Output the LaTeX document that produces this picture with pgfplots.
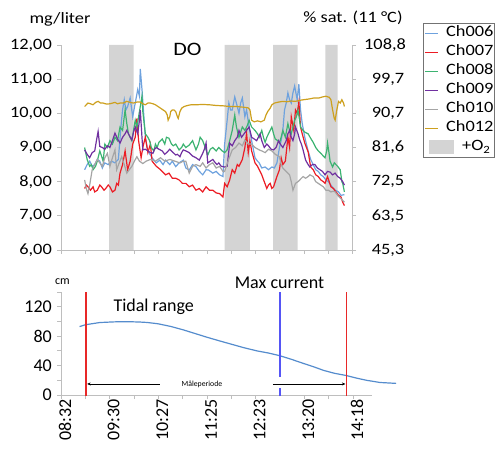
\documentclass[border=0pt]{standalone}
\usepackage{pgfplots}
\pgfplotsset{compat=1.18}
\usepackage{fontspec}
\setmainfont{Carlito}
\newfontfamily\topfam{Carlito}[FakeStretch=1.16]
\newcommand\tf{\topfam\fontsize{15.8bp}{18bp}\selectfont}
\newcommand\bfnt{\fontsize{18bp}{21bp}\selectfont}
\usetikzlibrary{arrows.meta}
\definecolor{c6}{RGB}{110,162,222}
\definecolor{c7}{RGB}{236,28,36}
\definecolor{c8}{RGB}{60,179,113}
\definecolor{c9}{RGB}{112,48,160}
\definecolor{c10}{RGB}{165,165,165}
\definecolor{c12}{RGB}{205,160,30}
\definecolor{bandgray}{RGB}{212,212,212}
\definecolor{axgray}{RGB}{190,190,190}
\definecolor{tide}{RGB}{85,140,205}
\definecolor{vred}{RGB}{232,40,40}
\definecolor{maxblue}{RGB}{85,85,245}
\pgfplotsset{
  linelg/.style={legend image code/.code={%
    \draw[##1, line width=1.4bp] (1bp,0bp) -- (14bp,0bp);
    \path[draw=none] (0bp,0bp) -- (22bp,0bp);}},
}
\begin{document}
\begin{tikzpicture}
\path[use as bounding box] (0,0) rectangle (498bp,449bp);
% ---------------- top axis (mg/liter) ----------------
\begin{axis}[
  at={(61bp,199bp)}, anchor=south west,
  scale only axis, width=291bp, height=205bp,
  xmin=512, xmax=857, ymin=6, ymax=12,
  axis x line=bottom, axis y line=left,
  axis line style={-, draw=axgray, line width=0.8bp},
  tick style={draw=axgray, line width=0.8bp},
  tick align=outside, major tick length=4bp,
  xtick={512,540.8,569.7,598.5,627.3,656.2,685,713.8,742.7,771.5,800.3,829.2,857},
  xticklabels={},
  ytick={6,7,8,9,10,11,12},
  yticklabels={{6,00},{7,00},{8,00},{9,00},{10,00},{11,00},{12,00}},
  yticklabel style={font=\tf, inner sep=0pt, xshift=-5bp},
  every axis plot/.append style={line width=1.2bp},
  legend cell align=left,
  legend style={at={(1.244,1.107)}, anchor=north west, draw=black!55,
    font=\tf, inner xsep=1bp, inner ysep=3bp, row sep=5bp,
    nodes={inner sep=0pt, text height=10.5bp, text depth=3.5bp}},
]
\addplot[fill=bandgray, draw=none, forget plot] coordinates {(569,6)(569,12)(598,12)(598,6)} \closedcycle;
\addplot[fill=bandgray, draw=none, forget plot] coordinates {(706,6)(706,12)(736,12)(736,6)} \closedcycle;
\addplot[fill=bandgray, draw=none, forget plot] coordinates {(763.5,6)(763.5,12)(792.5,12)(792.5,6)} \closedcycle;
\addplot[fill=bandgray, draw=none, forget plot] coordinates {(825.5,6)(825.5,12)(840,12)(840,6)} \closedcycle;
\addplot[c6, linelg] coordinates {(540,8.35)(543,8.5)(546,8.6)(549,8.45)(552,8.5)(555,8.65)(558,8.6)(561,8.4)(564,8.55)(568,8.5)(572,8.6)(576,8.55)(580,8.65)(583,9.6)(585,10.1)(587,10.4)(589,10.1)(591,10.2)(594,10.45)(597,9.9)(600,10.3)(603,10.7)(605,10.5)(606,11.3)(608,10.7)(610,10.0)(612,9.3)(615,8.9)(620,8.7)(625,8.55)(629,8.63)(633,8.5)(636,8.63)(641,8.5)(644,8.6)(648,8.44)(652,8.55)(657,8.63)(660,8.4)(664,8.34)(668,8.5)(672,8.44)(676,8.3)(680,8.2)(684,8.35)(687,8.34)(692,8.25)(696,8.3)(700,8.2)(704,8.15)(706,9.1)(709,9.8)(711,10.3)(713,10.1)(715,10.1)(718,10.48)(721,10.2)(723,10.0)(725,10.3)(727,10.45)(730,9.9)(732,10.1)(735,9.6)(738,9.2)(742,8.7)(745,8.6)(747,8.55)(750,8.4)(754,8.43)(758,8.35)(762,8.43)(765,8.4)(768,8.55)(771,9.0)(773,9.2)(775,9.5)(777,10.1)(779,10.3)(781,10.6)(783,10.4)(785,10.3)(787,10.6)(789,10.8)(792,10.4)(794,10.85)(796,10.1)(798,9.7)(801,9.3)(805,8.9)(808,8.65)(811,8.5)(814,8.35)(817,8.3)(820,8.2)(823,8.15)(826,8.05)(829,8.0)(832,7.9)(835,7.8)(837,7.75)(841,7.7)(844,7.6)(848,7.62)};
\addlegendentry{Ch006}
\addplot[c7, linelg] coordinates {(540,7.8)(542,7.9)(544,7.85)(547,7.75)(550,7.85)(552,7.7)(555,7.75)(558,7.9)(560,7.85)(563,7.75)(565,7.8)(568,7.9)(570,7.85)(573,7.7)(576,7.75)(578,7.95)(580,7.9)(582,8.25)(585,8.5)(588,8.9)(591,8.35)(594,8.6)(597,9.1)(600,9.3)(602,9.85)(604,9.2)(607,8.7)(609,9.0)(612,9.3)(615,8.85)(618,9.1)(620,8.6)(625,8.45)(630,8.35)(636,8.2)(640,8.25)(644,8.1)(648,8.1)(652,8.05)(656,7.95)(660,7.95)(664,7.85)(668,7.9)(672,7.75)(676,7.8)(680,7.7)(684,7.85)(688,7.75)(692,7.75)(696,7.67)(700,7.65)(704,7.55)(706,7.95)(709,7.85)(712,8.05)(715,8.35)(718,8.25)(721,8.5)(723,8.45)(727,8.65)(730,9.0)(732,9.42)(734,8.85)(736,9.2)(738,8.9)(742,8.55)(745,8.45)(747,8.35)(750,8.2)(753,8.0)(756,7.8)(758,7.9)(760,7.95)(762,7.8)(764,7.85)(766,8.0)(768,8.15)(771,8.35)(773,8.7)(775,8.5)(778,8.6)(781,9.3)(783,9.0)(785,9.9)(788,9.5)(790,10.1)(792,10.0)(794,10.34)(796,9.6)(798,9.4)(801,9.13)(805,8.87)(808,8.43)(811,8.35)(814,8.2)(817,8.15)(820,8.05)(823,8.0)(825,7.95)(828,8.15)(830,8.0)(832,7.85)(835,7.8)(838,7.7)(841,7.6)(844,7.55)(846,7.4)(848,7.3)};
\addlegendentry{Ch007}
\addplot[c8, linelg] coordinates {(540,9.0)(543,8.65)(546,8.45)(548,8.5)(550,8.35)(553,8.45)(555,8.6)(558,8.9)(560,8.75)(562,8.6)(564,9.1)(567,9.0)(570,9.2)(573,9.1)(576,9.3)(579,9.2)(582,9.6)(585,9.5)(588,10.1)(590,9.7)(592,9.4)(594,9.3)(596,9.2)(598,9.5)(600,9.8)(602,9.6)(604,9.9)(606,10.2)(608,10.5)(609,10.05)(612,9.4)(615,9.3)(617,9.2)(619,9.0)(622,8.9)(624,9.1)(626,9.0)(628,9.15)(632,9.25)(635,9.1)(637,9.3)(640,9.27)(643,9.1)(645,9.05)(648,9.1)(652,8.93)(655,9.0)(657,9.1)(660,9.0)(664,9.07)(668,9.2)(672,8.93)(675,9.1)(677,9.3)(680,9.2)(683,9.0)(686,8.78)(689,8.95)(692,9.0)(696,8.9)(699,9.0)(703,8.9)(706,8.85)(709,8.93)(712,9.2)(715,9.5)(718,9.95)(720,9.6)(723,9.3)(725,9.45)(727,9.6)(730,9.5)(733,9.65)(735,9.8)(738,9.6)(742,9.5)(745,9.4)(747,9.3)(750,9.5)(752,9.3)(754,9.15)(756,9.3)(758,9.4)(760,9.5)(762,9.6)(764,9.4)(766,9.25)(769,9.2)(771,9.13)(773,9.3)(775,9.5)(778,9.3)(781,9.7)(783,9.5)(785,9.4)(787,9.6)(789,9.8)(791,9.9)(793,10.1)(796,9.6)(799,9.5)(801,9.45)(805,9.4)(808,9.27)(811,9.15)(814,9.0)(817,8.9)(820,8.83)(823,8.75)(825,8.7)(827,8.9)(828,9.13)(830,8.8)(831,8.6)(834,8.43)(836,8.55)(838,8.5)(840,8.45)(843,8.35)(845,8.0)(846,7.95)(848,7.7)};
\addlegendentry{Ch008}
\addplot[c9, linelg] coordinates {(540,8.93)(543,8.8)(546,8.7)(549,8.85)(552,8.9)(554,9.2)(556,9.47)(558,9.03)(561,9.0)(564,8.95)(567,9.05)(570,9.0)(573,9.2)(576,9.42)(579,9.25)(582,9.13)(585,9.3)(588,9.4)(590,9.5)(593,9.35)(596,9.22)(598,9.45)(600,9.6)(603,9.4)(605,9.8)(606,10.1)(608,9.3)(609,8.93)(612,8.95)(615,8.9)(618,8.85)(621,8.83)(623,8.95)(625,9.0)(628,8.95)(632,8.9)(635,8.8)(638,8.87)(641,8.95)(645,8.85)(648,8.78)(650,8.8)(653,8.73)(655,8.85)(657,8.93)(660,8.9)(664,8.85)(668,8.75)(672,8.7)(676,8.63)(680,8.83)(682,8.95)(684,9.13)(686,8.55)(689,8.6)(692,8.65)(695,8.55)(697,8.5)(699,8.55)(702,8.45)(706,8.43)(709,8.45)(712,9.13)(715,9.05)(718,9.2)(721,9.3)(723,9.5)(726,9.3)(729,9.4)(732,9.5)(735,9.6)(738,9.3)(741,9.25)(744,9.2)(746,9.3)(748,9.4)(750,9.2)(753,9.0)(756,9.1)(758,9.05)(761,8.95)(764,8.93)(767,9.0)(770,9.2)(772,9.1)(775,9.0)(777,9.1)(779,9.2)(781,9.4)(783,9.5)(785,9.3)(787,9.2)(789,9.4)(790,9.6)(793,9.4)(795,9.22)(797,9.1)(799,8.93)(802,8.63)(805,8.5)(807,8.43)(810,8.5)(813,8.5)(816,8.4)(819,8.35)(822,8.3)(825,8.2)(828,8.3)(831,8.28)(834,8.2)(837,8.25)(840,8.15)(843,8.1)(846,8.0)(848,7.9)};
\addlegendentry{Ch009}
\addplot[c10, linelg] coordinates {(540,8.05)(542,7.8)(544,7.65)(546,7.9)(549,8.35)(552,8.5)(555,8.65)(558,8.55)(561,8.45)(564,8.7)(567,8.83)(570,8.45)(573,8.7)(576,8.93)(578,8.35)(581,8.55)(584,8.73)(587,8.5)(590,8.25)(593,8.35)(596,8.45)(599,8.6)(602,8.73)(605,8.6)(609,8.53)(613,8.6)(618,8.65)(624,8.6)(630,8.7)(635,8.6)(641,8.65)(647,8.6)(653,8.55)(657,8.6)(660,8.6)(664,8.25)(668,8.45)(672,8.5)(677,8.45)(680,8.55)(684,8.4)(688,8.5)(692,8.55)(696,8.4)(700,8.45)(704,8.3)(706,8.3)(710,8.6)(715,8.93)(719,9.0)(723,9.13)(727,9.05)(730,9.22)(734,9.1)(738,9.1)(742,9.0)(747,8.93)(750,8.9)(754,8.85)(758,8.95)(762,8.9)(766,8.8)(771,8.73)(773,8.5)(775,8.4)(777,8.35)(779,8.3)(781,8.25)(783,8.2)(785,8.0)(787,7.75)(790,7.95)(793,8.0)(795,8.05)(797,8.1)(799,8.15)(802,8.1)(805,8.15)(807,8.2)(811,8.15)(814,8.0)(817,7.95)(820,7.9)(823,7.85)(826,7.75)(829,7.75)(832,7.7)(835,7.72)(837,7.7)(840,7.6)(843,7.52)(846,7.45)(848,7.4)};
\addlegendentry{Ch010}
\addplot[c12, linelg] coordinates {(540,10.2)(542,10.25)(544,10.3)(547,10.28)(550,10.25)(553,10.32)(556,10.35)(559,10.3)(562,10.3)(566,10.27)(570,10.28)(573,10.3)(576,10.32)(579,10.28)(582,10.3)(586,10.3)(590,10.35)(594,10.32)(598,10.3)(602,10.33)(606,10.33)(609,10.28)(612,10.25)(615,10.3)(618,10.3)(621,10.28)(624,10.25)(627,10.2)(630,10.15)(633,10.1)(636,10.05)(638,9.95)(639,9.8)(641,9.9)(642,10.05)(644,10.1)(646,10.1)(648,10.05)(650,9.9)(651,9.85)(653,10.05)(655,10.15)(658,10.2)(662,10.23)(666,10.25)(672,10.25)(680,10.26)(688,10.25)(696,10.23)(704,10.22)(712,10.2)(720,10.2)(728,10.18)(734,10.16)(736,10.1)(738,9.8)(741,9.75)(745,9.78)(749,9.75)(753,9.8)(755,9.95)(757,10.05)(760,10.15)(762,10.25)(765,10.3)(770,10.33)(775,10.35)(780,10.34)(785,10.36)(790,10.35)(795,10.38)(800,10.4)(806,10.42)(812,10.45)(818,10.45)(822,10.48)(826,10.5)(830,10.47)(832,10.4)(834,10.1)(836,9.85)(837,9.8)(839,10.1)(841,10.35)(843,10.3)(845,10.4)(847,10.3)(848,10.2)};
\addlegendentry{Ch012}
\addlegendimage{legend image code/.code={\fill[bandgray, draw=none, overlay] (5bp,-6.5bp) rectangle (30bp,7bp); \path[draw=none] (0bp,0bp) -- (22bp,0bp);}}
\addlegendentry{\hspace{16bp}+O\textsubscript{2}}
\end{axis}
% right axis (% saturation)
\begin{axis}[
  at={(61bp,199bp)}, anchor=south west,
  scale only axis, width=291bp, height=205bp,
  xmin=512, xmax=857, ymin=6, ymax=12,
  axis x line=none, axis y line=right,
  axis line style={-, draw=axgray, line width=0.8bp},
  tick style={draw=axgray, line width=0.8bp},
  tick align=outside, major tick length=4bp,
  ytick={6,7,8,9,10,11,12},
  yticklabels={{45,3},{63,5},{72,5},{81,6},{90,7},{99,7},{108,8}},
  yticklabel style={font=\tf, inner sep=0pt, anchor=west, text width=40bp, align=right, xshift=8bp},
]
\addplot[draw=none] coordinates {(512,6)};
\end{axis}
\node[font=\tf, anchor=base] at (60bp,425.7bp) {mg/liter};
\node[font=\tf, anchor=base] at (353bp,426.3bp) {\% sat. (11 \textdegree C)};
\node[font=\topfam\fontsize{19bp}{22bp}\selectfont, anchor=base] at (187.5bp,393bp) {DO};
% ---------------- bottom axis (tide) ----------------
\begin{axis}[
  at={(61bp,54bp)}, anchor=south west,
  scale only axis, width=311bp, height=103bp,
  xmin=512, xmax=880.5, ymin=0, ymax=140,
  axis x line=bottom, axis y line=left,
  axis line style={-, draw=axgray, line width=0.8bp},
  tick style={draw=axgray, line width=0.8bp},
  tick align=outside, major tick length=4bp, minor tick length=4bp,
  xtick={512,569.67,627.33,685,742.67,800.33,858},
  xticklabels={08:32,09:30,10:27,11:25,12:23,13:20,14:18},
  minor xtick={540.8,598.5,656.2,713.8,829.2},
  xticklabel style={font=\bfnt, rotate=90, anchor=east, inner sep=0pt, yshift=-4bp},
  ytick={0,40,80,120},
  yticklabels={0,40,80,120},
  minor ytick={20,60,100,140},
  yticklabel style={font=\bfnt, inner sep=0pt, xshift=-5bp},
  clip=false,
]
\addplot[tide, line width=1.2bp] coordinates {(534,93)(541,95.5)(558,98.5)(575,99.4)(590,99.7)(605,99.2)(614,98.6)(627,96.8)(642,93.2)(657,88.5)(671,83.5)(685,78.5)(700,73.5)(714,69)(728,64.5)(744,60)(758,57)(771,53.5)(785,48.5)(799,43)(811,38.5)(823,33.5)(836,29.5)(850,26.5)(862,23)(874,20)(890,17)(909,15.8)};
\addplot[draw=vred, line width=1.3bp] coordinates {(541.5,-1)(541.5,140)};
\addplot[draw=vred, line width=1.3bp] coordinates {(850,-1)(850,140)};
\addplot[draw=maxblue, color=maxblue, line width=1.7bp] coordinates {(771.5,24.5)(771.5,140)};
\addplot[draw=maxblue, color=maxblue, line width=1.7bp] coordinates {(771.5,-2)(771.5,9.5)};
\addplot[black, line width=0.6bp, -{Stealth[length=3.5bp,width=3bp]}] coordinates {(629,15)(543,15)};
\addplot[black, line width=0.6bp, -{Stealth[length=3.5bp,width=3bp]}] coordinates {(763,15)(849,15)};
\end{axis}
\node[font=\fontsize{12bp}{14bp}\selectfont, anchor=base] at (62.5bp,164.7bp) {cm};
\node[font=\bfnt, anchor=base west] at (110bp,137.3bp) {Tidal range};
\node[font=\bfnt, anchor=base] at (279.5bp,160.7bp) {Max current};
\node[font=\fontsize{7.8bp}{9bp}\selectfont] at (202bp,65bp) {Måleperiode};
\end{tikzpicture}
\end{document}
